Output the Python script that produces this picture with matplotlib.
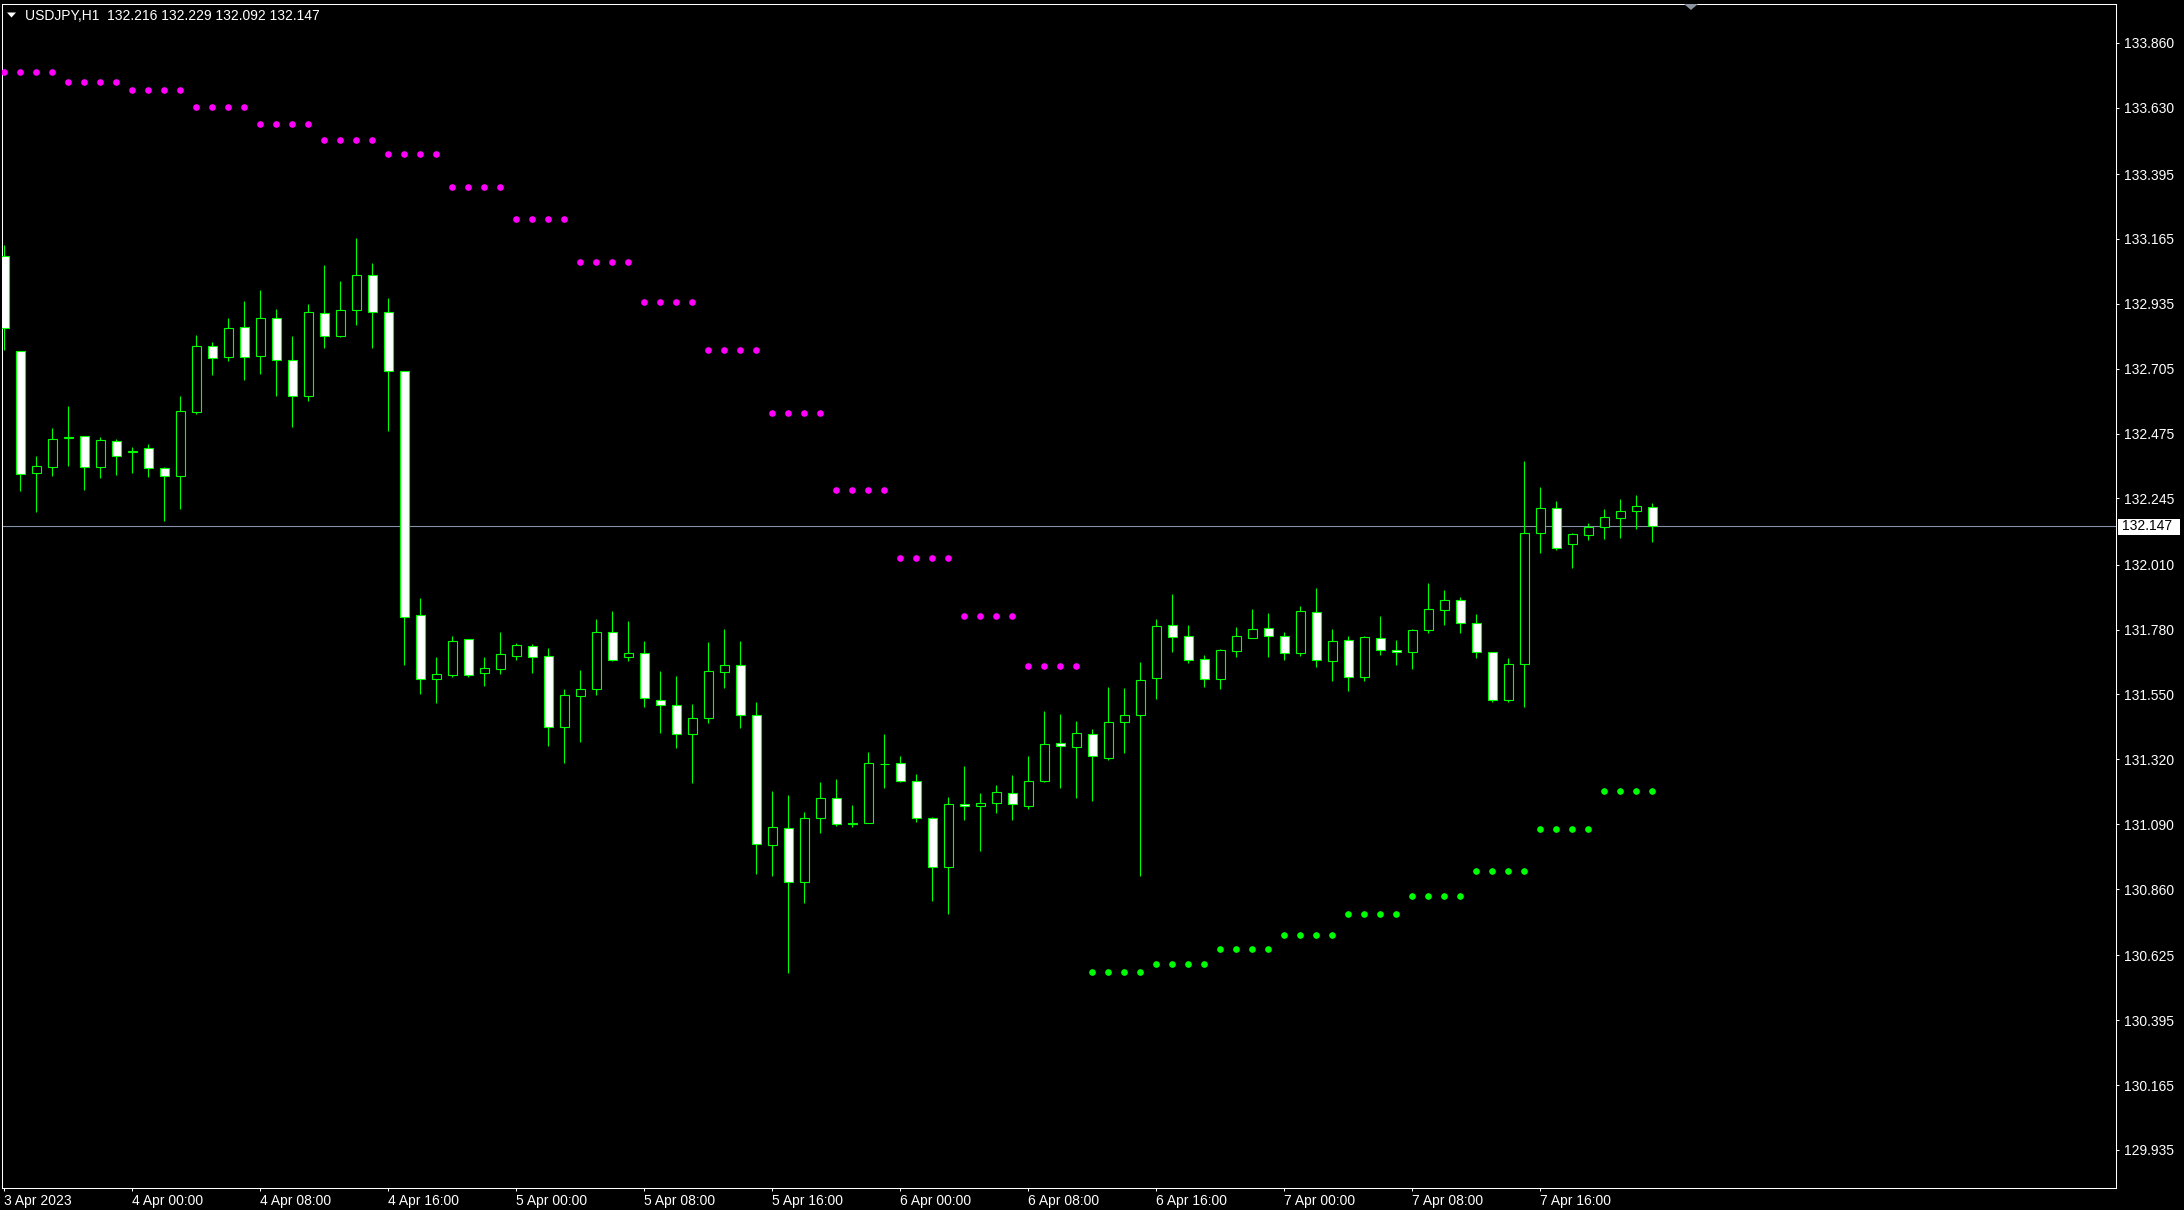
import numpy as np
import matplotlib.pyplot as plt
from matplotlib.patches import Rectangle, Polygon

plt.rcParams['font.family'] = ['Liberation Sans', 'DejaVu Sans']

W, H = 2184, 1210

symbol = 'USDJPY,H1'
bid = 132.147

# H1 bars, 3 Apr 16:00 .. 7 Apr 23:00
opens = [
    133.105, 132.767, 132.334, 132.358, 132.459, 132.465, 132.358, 132.447,
    132.410, 132.423, 132.352, 132.323, 132.550, 132.784, 132.745, 132.852,
    132.749, 132.884, 132.735, 132.607, 132.901, 132.820, 132.912, 133.036,
    132.905, 132.696, 131.830, 131.603, 131.620, 131.745, 131.625, 131.639,
    131.687, 131.720, 131.685, 131.433, 131.546, 131.571, 131.770, 131.681,
    131.696, 131.532, 131.511, 131.408, 131.465, 131.631, 131.653, 131.476,
    131.017, 131.075, 130.884, 131.111, 131.182, 131.089, 131.095, 131.303,
    131.306, 131.242, 131.111, 130.937, 131.160, 131.153, 131.164, 131.199,
    131.156, 131.242, 131.377, 131.365, 131.409, 131.326, 131.451, 131.476,
    131.607, 131.795, 131.756, 131.674, 131.606, 131.705, 131.751, 131.784,
    131.756, 131.698, 131.841, 131.670, 131.742, 131.613, 131.749, 131.706,
    131.699, 131.777, 131.848, 131.884, 131.802, 131.699, 131.529, 131.657,
    132.121, 132.210, 132.082, 132.114, 132.143, 132.174, 132.199, 132.216,
]
highs = [
    133.144, 132.767, 132.395, 132.495, 132.573, 132.466, 132.462, 132.456,
    132.427, 132.438, 132.356, 132.608, 132.824, 132.800, 132.885, 132.945,
    132.984, 132.917, 132.821, 132.934, 133.073, 133.016, 133.168, 133.080,
    132.956, 132.698, 131.891, 131.682, 131.757, 131.747, 131.682, 131.772,
    131.733, 131.729, 131.714, 131.569, 131.636, 131.817, 131.846, 131.811,
    131.740, 131.632, 131.614, 131.516, 131.736, 131.781, 131.740, 131.522,
    131.208, 131.193, 131.132, 131.240, 131.250, 131.158, 131.346, 131.410,
    131.332, 131.268, 131.114, 131.186, 131.296, 131.200, 131.229, 131.264,
    131.332, 131.491, 131.481, 131.456, 131.427, 131.576, 131.572, 131.665,
    131.816, 131.906, 131.795, 131.689, 131.710, 131.788, 131.853, 131.839,
    131.770, 131.863, 131.927, 131.781, 131.756, 131.756, 131.828, 131.742,
    131.781, 131.945, 131.920, 131.894, 131.835, 131.700, 131.678, 132.377,
    132.284, 132.235, 132.121, 132.157, 132.206, 132.242, 132.256, 132.229,
]
lows = [
    132.771, 132.272, 132.198, 132.326, 132.361, 132.276, 132.319, 132.328,
    132.336, 132.322, 132.166, 132.209, 132.546, 132.684, 132.733, 132.666,
    132.687, 132.609, 132.499, 132.592, 132.780, 132.818, 132.861, 132.780,
    132.485, 131.656, 131.553, 131.521, 131.613, 131.613, 131.581, 131.624,
    131.673, 131.627, 131.367, 131.307, 131.382, 131.549, 131.667, 131.668,
    131.507, 131.414, 131.360, 131.235, 131.449, 131.574, 131.432, 130.914,
    130.907, 130.563, 130.812, 131.060, 131.085, 131.081, 131.094, 131.219,
    131.241, 131.099, 130.819, 130.771, 131.106, 130.996, 131.131, 131.106,
    131.145, 131.241, 131.219, 131.184, 131.173, 131.319, 131.344, 130.907,
    131.535, 131.702, 131.663, 131.577, 131.570, 131.684, 131.750, 131.684,
    131.673, 131.687, 131.648, 131.599, 131.563, 131.599, 131.691, 131.656,
    131.641, 131.767, 131.797, 131.767, 131.680, 131.524, 131.524, 131.507,
    132.053, 132.063, 131.999, 132.099, 132.102, 132.106, 132.138, 132.092,
]
closes = [
    132.848, 132.330, 132.359, 132.455, 132.461, 132.358, 132.451, 132.397,
    132.412, 132.352, 132.323, 132.554, 132.784, 132.742, 132.848, 132.745,
    132.884, 132.735, 132.607, 132.905, 132.820, 132.912, 133.036, 132.905,
    132.696, 131.823, 131.603, 131.621, 131.741, 131.620, 131.642, 131.692,
    131.724, 131.684, 131.433, 131.547, 131.571, 131.770, 131.673, 131.696,
    131.536, 131.511, 131.408, 131.465, 131.632, 131.653, 131.476, 131.021,
    131.079, 130.884, 131.111, 131.182, 131.089, 131.095, 131.306, 131.305,
    131.242, 131.111, 130.937, 131.160, 131.153, 131.164, 131.203, 131.160,
    131.242, 131.373, 131.366, 131.412, 131.331, 131.451, 131.476, 131.600,
    131.791, 131.755, 131.673, 131.606, 131.706, 131.756, 131.781, 131.758,
    131.698, 131.845, 131.673, 131.738, 131.613, 131.752, 131.709, 131.699,
    131.777, 131.852, 131.884, 131.802, 131.699, 131.529, 131.657, 132.121,
    132.210, 132.068, 132.118, 132.143, 132.178, 132.199, 132.217, 132.147,
]
# parabolic SAR dots (one per bar)
sar = [
    133.757, 133.757, 133.757, 133.757, 133.722, 133.722, 133.722, 133.722,
    133.693, 133.693, 133.693, 133.693, 133.633, 133.633, 133.633, 133.633,
    133.574, 133.574, 133.574, 133.574, 133.515, 133.515, 133.515, 133.515,
    133.466, 133.466, 133.466, 133.466, 133.348, 133.348, 133.348, 133.348,
    133.235, 133.235, 133.235, 133.235, 133.083, 133.083, 133.083, 133.083,
    132.942, 132.942, 132.942, 132.942, 132.772, 132.772, 132.772, 132.772,
    132.548, 132.548, 132.548, 132.548, 132.274, 132.274, 132.274, 132.274,
    132.033, 132.033, 132.033, 132.033, 131.829, 131.829, 131.829, 131.829,
    131.651, 131.651, 131.651, 131.651, 130.566, 130.566, 130.566, 130.566,
    130.595, 130.595, 130.595, 130.595, 130.649, 130.649, 130.649, 130.649,
    130.698, 130.698, 130.698, 130.698, 130.772, 130.772, 130.772, 130.772,
    130.836, 130.836, 130.836, 130.836, 130.925, 130.925, 130.925, 130.925,
    131.073, 131.073, 131.073, 131.073, 131.206, 131.206, 131.206, 131.206,
]

price_ticks = [133.860, 133.630, 133.395, 133.165, 132.935, 132.705, 132.475,
               132.245, 132.010, 131.780, 131.550, 131.320, 131.090, 130.860,
               130.625, 130.395, 130.165, 129.935]
time_bars = [0, 8, 16, 24, 32, 40, 48, 56, 64, 72, 80, 88, 96]
time_labels = ['3 Apr 2023', '4 Apr 00:00', '4 Apr 08:00', '4 Apr 16:00',
               '5 Apr 00:00', '5 Apr 08:00', '5 Apr 16:00', '6 Apr 00:00',
               '6 Apr 08:00', '6 Apr 16:00', '7 Apr 00:00', '7 Apr 08:00',
               '7 Apr 16:00']


def fx(px):
    return px / W


def fy(py):
    return 1 - py / H


fig = plt.figure(figsize=(W / 100, H / 100), dpi=100, facecolor='black')
ax = fig.add_axes([fx(2), fy(1188), 2114 / W, 1184 / H])
ax.set_facecolor('black')
ax.set_xlim(-0.144, 131.98)
ax.set_ylim(129.800, 133.998)

green = '#00ff00'
x = np.arange(len(opens))
body_w = 0.6

# wicks
ax.vlines(x, lows, highs, color=green, lw=0.8, zorder=2)
# bodies: white = bear, black = bull
for i in x:
    o, c = opens[i], closes[i]
    face = 'white' if c < o else 'black'
    lo, hi = min(o, c), max(o, c)
    ax.add_patch(Rectangle((i - body_w / 2, lo), body_w, hi - lo,
                           facecolor=face, edgecolor=green, lw=0.8, zorder=3))

# parabolic SAR
sar = np.array(sar)
above = sar > np.array(highs)
ax.plot(x[above], sar[above], 'o', color='#ff00ff', ms=4.8, mew=0, zorder=4)
ax.plot(x[~above], sar[~above], 'o', color=green, ms=4.8, mew=0, zorder=4)

# bid line
ax.axhline(bid, color='#8391a6', lw=0.8, zorder=1)

for s in ax.spines.values():
    s.set_color('white')
    s.set_linewidth(0.75)

ax.yaxis.tick_right()
ax.set_yticks(price_ticks)
ax.set_yticklabels([f'{p:.3f}' for p in price_ticks])
ax.tick_params(axis='y', colors='white', length=2.5, width=0.75,
               labelsize=10, pad=3)
ax.set_xticks(time_bars)
ax.set_xticklabels(time_labels)
for lab in ax.get_xticklabels():
    lab.set_ha('left')
ax.tick_params(axis='x', colors='white', length=2.5, width=0.75,
               labelsize=10, pad=2)

# header
fig.text(fx(25), fy(15.5), f'{symbol}  132.216 132.229 132.092 132.147',
         color='white', fontsize=10, va='center', ha='left')
fig.add_artist(Polygon([(fx(7), fy(12.5)), (fx(16), fy(12.5)), (fx(11.5), fy(17.5))],
                       closed=True, facecolor='white', edgecolor='none',
                       transform=fig.transFigure))

# chart shift marker
fig.add_artist(Polygon([(fx(1684), fy(4)), (fx(1698), fy(4)), (fx(1691), fy(10))],
                       closed=True, facecolor='#8a94a0', edgecolor='none',
                       transform=fig.transFigure))

# bid price label
fig.add_artist(Rectangle((fx(2118), fy(534.5)), 62 / W, 16 / H, facecolor='white',
                         edgecolor='none', transform=fig.transFigure))
fig.text(fx(2122), fy(526.5), f'{bid:.3f}', color='black', fontsize=10,
         va='center', ha='left')

fig.savefig('out.png', dpi=100, facecolor='black')
